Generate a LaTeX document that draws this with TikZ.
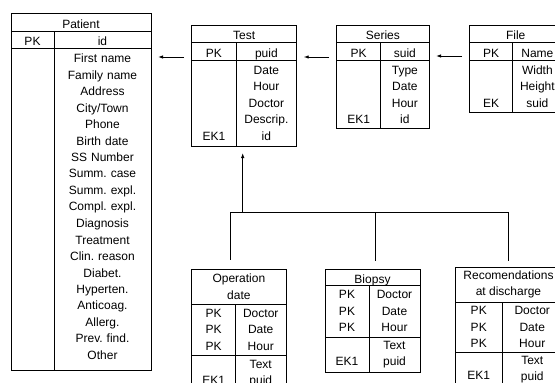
\documentclass[tikz,border=0pt]{standalone}
\usepackage{fontspec}
\setmainfont{Liberation Sans}
\usetikzlibrary{arrows.meta,positioning}
\newcommand{\tabfont}{\fontsize{12}{16.5}\selectfont\frenchspacing}

\begin{document}
\begin{tikzpicture}[x=1pt,y=-1pt,
                    every node/.style={font=\tabfont},
                    cell/.style={draw,anchor=north west,inner sep=0pt,outer sep=0pt,line width=0.9pt,text height=12pt,text depth=0pt},
                    multi/.style={align=center,text height=,text depth=},
                    fld/.style={anchor=base,inner sep=0pt,align=center,text width=#1},
                    lbl/.style={anchor=base,inner sep=0pt},
                    link/.style={->,>={Latex[length=5pt,width=3.5pt]},line width=0.9pt,shorten <=7.5pt,shorten >=7pt},
                    branch/.style={line width=0.9pt}]

\useasboundingbox (0,0) rectangle (555,383);
\clip (0,0) rectangle (555,383);

% Patient
\node[cell,minimum width=140pt,minimum height=18.5pt] (patienthead) at (11,13) {Patient};
\node[cell,minimum width=43pt,minimum height=16.5pt,below right=0pt and 0pt of patienthead.south west] (patientpk) {PK};
\node[cell,minimum width=97pt,minimum height=16.5pt,right=0pt of patientpk] (patientid) {id};
\node[cell,minimum width=43pt,minimum height=322pt,below right=0pt and 0pt of patientpk.south west] (patientkeys) {};
\node[cell,minimum width=97pt,minimum height=322pt,right=0pt of patientkeys] (patientfields) {};
\node[fld=97pt] (patientlist) at ([yshift=-14.5pt]patientfields.north) {First name\\Family name\\Address\\City/Town\\Phone\\Birth date\\SS Number\\Summ. case\\Summ. expl.\\Compl. expl.\\Diagnosis\\Treatment\\Clin. reason\\Diabet.\\Hyperten.\\Anticoag.\\Allerg.\\Prev. find.\\Other};

% Test
\node[cell,minimum width=105pt,minimum height=17.7pt] (testhead) at (191.7,25) {Test};
\node[cell,minimum width=44.3pt,minimum height=17.3pt,below right=0pt and 0pt of testhead.south west] (testpk) {PK};
\node[cell,minimum width=60.7pt,minimum height=17.3pt,right=0pt of testpk] (testpuid) {puid};
\node[cell,minimum width=44.3pt,minimum height=86pt,below right=0pt and 0pt of testpk.south west] (testkeys) {};
\node[cell,minimum width=60.7pt,minimum height=86pt,right=0pt of testkeys] (testfields) {};
\node[fld=60.7pt] (testlist) at ([yshift=-14pt]testfields.north) {Date\\Hour\\Doctor\\Descrip.\\id};
\node[lbl] (testek) at ([yshift=5.5pt]testkeys.south) {EK1};

% Series
\node[cell,minimum width=92.3pt,minimum height=17.7pt] (serieshead) at (336.7,25) {Series};
\node[cell,minimum width=44pt,minimum height=17.3pt,below right=0pt and 0pt of serieshead.south west] (seriespk) {PK};
\node[cell,minimum width=48.3pt,minimum height=17.3pt,right=0pt of seriespk] (seriessuid) {suid};
\node[cell,minimum width=44pt,minimum height=68.3pt,below right=0pt and 0pt of seriespk.south west] (serieskeys) {};
\node[cell,minimum width=48.3pt,minimum height=68.3pt,right=0pt of serieskeys] (seriesfields) {};
\node[fld=48.3pt] (serieslist) at ([yshift=-14pt]seriesfields.north) {Type\\Date\\Hour\\id};
\node[lbl] (seriesek) at ([yshift=4.8pt]serieskeys.south) {EK1};

% File
\node[cell,minimum width=92.5pt,minimum height=17.7pt] (filehead) at (469.5,25) {File};
\node[cell,minimum width=43.2pt,minimum height=17.3pt,below right=0pt and 0pt of filehead.south west] (filepk) {PK};
\node[cell,minimum width=49.3pt,minimum height=17.3pt,right=0pt of filepk] (filename) {Name};
\node[cell,minimum width=43.2pt,minimum height=52.3pt,below right=0pt and 0pt of filepk.south west] (filekeys) {};
\node[cell,minimum width=49.3pt,minimum height=52.3pt,right=0pt of filekeys] (filefields) {};
\node[fld=49.3pt] (filelist) at ([yshift=-14pt]filefields.north) {Width\\Height\\suid};
\node[lbl] (fileek) at ([yshift=5.3pt]filekeys.south) {EK};

% Operation date
\node[cell,multi,minimum width=94.3pt,minimum height=34.5pt] (ophead) at (191.7,269.5) {Operation\\date};
\node[cell,multi,minimum width=43.8pt,minimum height=51.5pt,below right=0pt and 0pt of ophead.south west] (oppk) {PK\\PK\\PK};
\node[cell,multi,minimum width=50.5pt,minimum height=51.5pt,right=0pt of oppk] (opkey) {Doctor\\Date\\Hour};
\node[cell,minimum width=43.8pt,minimum height=36.5pt,below right=0pt and 0pt of oppk.south west] (opkeys) {};
\node[cell,multi,minimum width=50.5pt,minimum height=36.5pt,right=0pt of opkeys] (opfields) {Text\\puid};
\node[lbl] (opek) at ([yshift=7.5pt]opkeys.south) {EK1};

% Biopsy
\node[cell,minimum width=95pt,minimum height=16.3pt] (biohead) at (325,269) {Biopsy};
\node[cell,multi,minimum width=44pt,minimum height=51.7pt,below right=0pt and 0pt of biohead.south west] (biopk) {PK\\PK\\PK};
\node[cell,multi,minimum width=51pt,minimum height=51.7pt,right=0pt of biopk] (biokey) {Doctor\\Date\\Hour};
\node[cell,minimum width=44pt,minimum height=35.5pt,below right=0pt and 0pt of biopk.south west] (biokeys) {};
\node[cell,multi,minimum width=51pt,minimum height=35.5pt,right=0pt of biokeys] (biofields) {Text\\puid};
\node[lbl] (bioek) at ([yshift=7pt]biokeys.south) {EK1};

% Recomendations at discharge
\node[cell,multi,minimum width=107pt,minimum height=35pt] (rechead) at (455,267) {Recomendations\\at discharge};
\node[cell,multi,minimum width=47.5pt,minimum height=50pt,below right=0pt and 0pt of rechead.south west] (recpk) {PK\\PK\\PK};
\node[cell,multi,minimum width=59.5pt,minimum height=50pt,right=0pt of recpk] (reckey) {Doctor\\Date\\Hour};
\node[cell,minimum width=47.5pt,minimum height=35pt,below right=0pt and 0pt of recpk.south west] (reckeys) {};
\node[cell,multi,minimum width=59.5pt,minimum height=35pt,right=0pt of reckeys] (recfields) {Text\\puid};
\node[lbl] (recek) at ([yshift=7.5pt]reckeys.south) {EK1};

% links
\coordinate (testin) at ([yshift=3pt]testkeys.north west);
\coordinate (seriesin) at ([yshift=3pt]serieskeys.north west);
\coordinate (filein) at ([yshift=4pt]filekeys.north west);
\draw[link] (testin) -- (testin -| patientfields.east);
\draw[link] (seriesin) -- (seriesin -| testfields.east);
\draw[link] (filein) -- (filein -| seriesfields.east);

\coordinate (fork) at (242.7,212);
\draw[link,shorten <=0pt] (fork) -- (fork |- testfields.south);
\draw[branch] (fork) -| ([xshift=-8pt,yshift=9.5pt]ophead.north);
\draw[branch] (fork) -| ([xshift=3pt,yshift=8.5pt]biohead.north);
\draw[branch] (fork) -| ([yshift=6.5pt]rechead.north);

\end{tikzpicture}
\end{document}
